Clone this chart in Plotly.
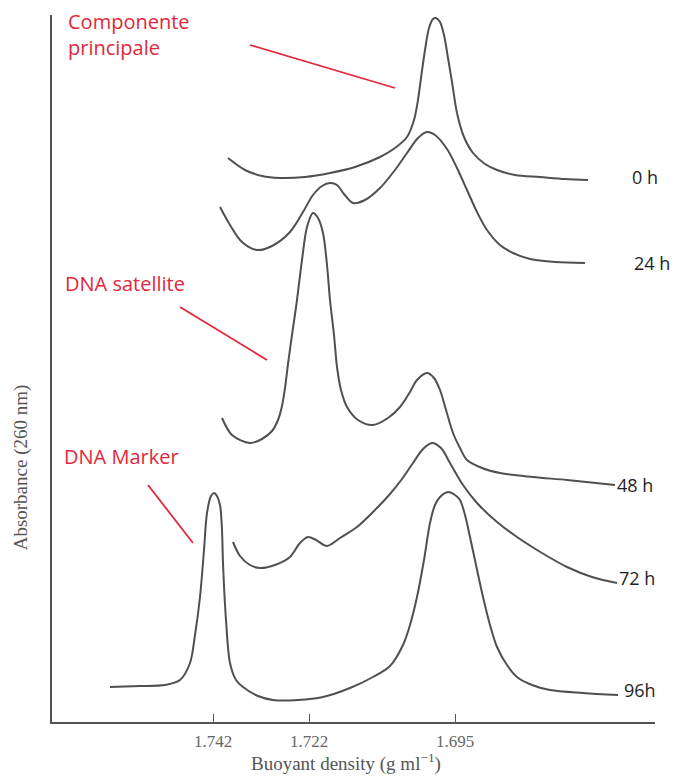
import plotly.graph_objects as go

# Distance along the gradient (arbitrary units) and absorbance (arbitrary units)
x_0h = [176,193,210,228,253,278,303,328,343,355,362,366,369,373,377,381,384,388,392,396,400,405,412,421,433,445,463,488,513,536]
y_0h = [564,552,546,544,545,549,555,565,574,585,602,622,644,672,694,703,704,700,687,664,640,609,585,569,558,552,547,545,543,542]

x_24h = [168,178,190,205,220,238,251,261,270,278,285,292,301,313,328,343,355,366,375,383,395,405,415,425,435,448,461,478,503,533]
y_24h = [515,497,480,472,476,490,510,527,536,539,537,528,519,522,534,552,569,584,590,587,573,554,532,510,492,477,469,463,460,459]

x_48h = [170,180,198,210,220,226,230,233,236,240,245,250,255,261,266,271,275,278,282,285,289,295,306,321,336,348,358,365,375,382,388,394,401,408,415,430,448,481,515,563]
y_48h = [304,287,279,283,291,302,316,334,358,387,422,462,495,509,504,489,457,422,387,355,332,315,302,297,304,315,330,342,349,344,332,312,289,274,262,254,249,245,242,237]

x_72h = [181,188,198,208,223,238,248,256,264,275,288,305,322,338,350,361,371,380,389,398,411,425,445,465,490,515,540,565]
y_72h = [180,166,157,154,157,165,179,185,182,176,184,195,211,228,243,259,273,279,274,259,237,219,200,185,169,155,145,139]

x_96h = [58,88,113,128,138,143,148,152,155,159,162,165,168,170,171,174,178,184,191,206,221,246,271,298,321,338,351,358,365,372,378,383,388,396,403,408,413,418,424,431,438,445,455,465,480,498,531,566]
y_96h = [35,36,37,42,59,87,125,172,209,226,229,226,217,192,159,102,59,42,35,26,22,22,25,34,45,56,77,97,125,162,199,217,225,230,227,222,207,185,157,125,97,75,57,45,37,32,29,27]

series = [
    ("0 h", x_0h, y_0h),
    ("24 h", x_24h, y_24h),
    ("48 h", x_48h, y_48h),
    ("72 h", x_72h, y_72h),
    ("96h", x_96h, y_96h),
]

tick_vals = [161, 257, 403]
tick_text = ["1.742", "1.722", "1.695"]

fig = go.Figure()
for name, xs, ys in series:
    fig.add_trace(go.Scatter(x=xs, y=ys, mode="lines", name=name,
                             line=dict(color="#505050", width=2, shape="spline", smoothing=0.9),
                             showlegend=False, hoverinfo="skip"))

RED = "#e2283a"
label_font = dict(family="Open Sans, Noto Sans, sans-serif", size=20, color=RED)
time_font = dict(family="Open Sans, Noto Sans, sans-serif", size=18, color="#1e1e1e")

annots = [
    dict(x=14, y=688, text="Componente<br>principale", font=label_font, align="left"),
    dict(x=11, y=439, text="DNA satellite", font=label_font),
    dict(x=10, y=266, text="DNA Marker", font=label_font),
    dict(x=578, y=545, text="0 h", font=time_font),
    dict(x=580, y=459, text="24 h", font=time_font),
    dict(x=563, y=237, text="48 h", font=time_font),
    dict(x=565, y=144, text="72 h", font=time_font),
    dict(x=570, y=32, text="96h", font=time_font),
]
for a in annots:
    fig.add_annotation(xref="x", yref="y", showarrow=False, xanchor="left", yanchor="middle", **a)

serif = "Liberation Serif, DejaVu Serif, serif"
fig.add_annotation(xref="paper", yref="paper", x=0.4876, y=-0.057, showarrow=False,
                   xanchor="center", yanchor="middle",
                   text="Buoyant density (g ml<sup>−1</sup>)",
                   font=dict(family=serif, size=19, color="#555555"))
fig.add_annotation(xref="paper", yref="paper", x=-0.05, y=0.36, showarrow=False,
                   xanchor="center", yanchor="middle", textangle=-90,
                   text="Absorbance (260 nm)",
                   font=dict(family=serif, size=19, color="#555555"))

# red pointer lines
pointers = [((198, 677), (343, 634)), ((128, 415), (215, 362)), ((96, 237), (141, 179))]
for (x0, y0), (x1, y1) in pointers:
    fig.add_shape(type="line", xref="x", yref="y", x0=x0, y0=y0, x1=x1, y1=y1,
                  line=dict(color=RED, width=1.8))

fig.update_layout(
    width=677, height=769,
    margin=dict(l=44, r=30, t=7, b=55),
    plot_bgcolor="white", paper_bgcolor="white",
)
fig.update_xaxes(range=[0, 603], showgrid=False, zeroline=False, showline=True,
                 linecolor="#555555", linewidth=1.5, ticks="inside", ticklen=8,
                 tickcolor="#555555", tickvals=tick_vals, ticktext=tick_text,
                 tickfont=dict(family=serif, size=17, color="#666666"),
                 ticklabelstandoff=3)
fig.update_yaxes(range=[0, 707], showgrid=False, zeroline=False, showline=True,
                 linecolor="#555555", linewidth=1.5, showticklabels=False, ticks="")

fig.write_html("out.html")
